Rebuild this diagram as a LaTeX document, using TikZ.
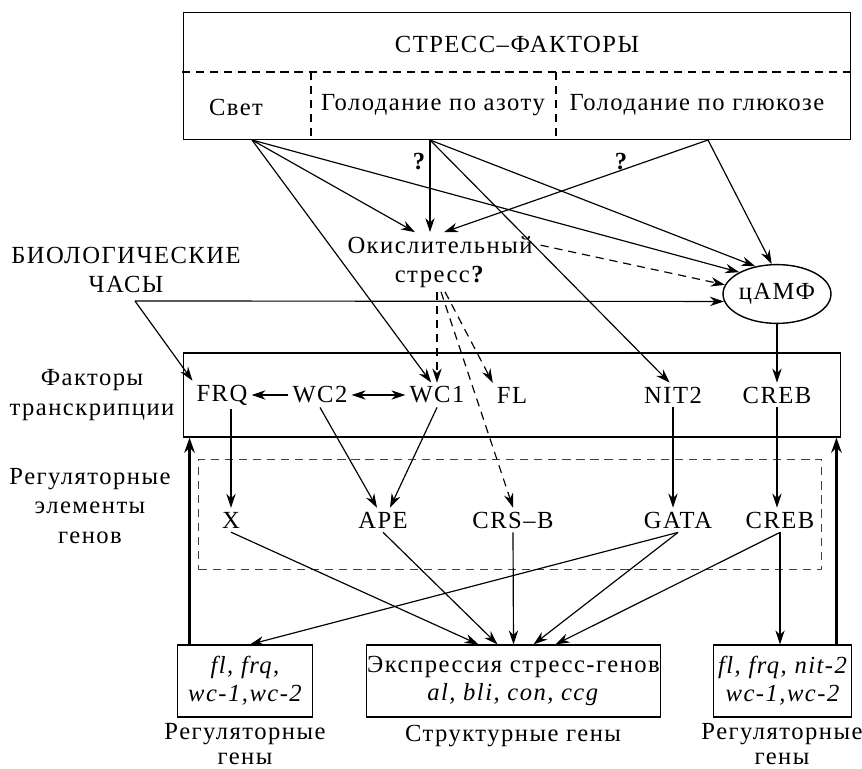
\documentclass[tikz,border=0pt]{standalone}
\usepackage{fontspec}
\setmainfont{Liberation Serif}[LetterSpace=6]
\usetikzlibrary{arrows.meta,positioning,shapes.geometric,calc}
\tikzset{
  box/.style={draw,line width=1.2pt,inner sep=0pt},
  link/.style={line width=1pt,-{Stealth[length=12pt,width=8pt]}},
  dlink/.style={link,dash pattern=on 7pt off 5pt},
  back/.style={line width=2.2pt,-{Stealth[length=13pt,width=9pt]}},
  dsh/.style={line width=1pt,dash pattern=on 7pt off 5pt},
  qmark/.style={font=\fontsize{21}{25}\selectfont\bfseries},
  undertext/.style={font=\fontsize{21}{21}\selectfont,inner sep=0pt}
}

\begin{document}
\begin{tikzpicture}[x=0.03cm,y=-0.03cm,
  every node/.style={font=\fontsize{21}{25}\selectfont,align=center}]
  \useasboundingbox (0,0) rectangle (862,769);
  % stress factors
  \node[box,minimum width=670*0.8504pt,minimum height=128*0.8504pt] (stressbox) at (517,76) {};
  \draw[dsh] (182,72) -- (852,72);
  \draw[dsh] (311,72) -- (311,140);
  \draw[dsh] (556,72) -- (556,140);
  \node (stress) at (517,44) {СТРЕСС–ФАКТОРЫ};
  \node (svet) at (236,107) {Свет};
  \node (azot) at (433,105) {Голодание по азоту};
  \node (gluc) at (697,105) {Голодание по глюкозе};
  \coordinate (svetb) at (252,140);
  \coordinate (azotb) at (430,140);
  \coordinate (glucb) at (708,140);
  \node[qmark] (q1) at (419,162) {?};
  \node[qmark] (q2) at (621,162) {?};

  % oxidative stress, cAMP, clock
  \node (ox) at (440,262) {Окислительный\\стресс\textbf{?}};
  \node[draw,ellipse,line width=1.2pt,inner sep=0pt,
        minimum width=98*0.8504pt,minimum height=59*0.8504pt] (camp) at (777,294) {цАМФ};
  \node (clock) at (126,270) {БИОЛОГИЧЕСКИЕ\\ЧАСЫ};
  \coordinate (clk) at (135,301);

  % transcription factors
  \node[box,minimum width=660*0.8504pt,minimum height=84*0.8504pt] (tfbox) at (512,395) {};
  \node (tflbl) at (92,395) {Факторы\\транскрипции};
  \node (frq) at (222,395) {FRQ};
  \node (wc2) at (320,395) {WC2};
  \node (wc1) at (437,395) {WC1};
  \node (fl) at (512,395) {FL};
  \node (nit) at (673,395) {NIT2};
  \node (crebf) at (777,395) {CREB};

  % regulatory elements
  \node[box,dsh,draw=black!75,minimum width=625*0.8504pt,minimum height=111*0.8504pt] (regbox) at (510,514.5) {};
  \node (relbl) at (90,506) {Регуляторные\\элементы\\генов};
  \node (x) at (231,520) {X};
  \node (ape) at (383,520) {APE};
  \node (crsb) at (513,520) {CRS–B};
  \node (gata) at (678,520) {GATA};
  \node (crebe) at (780,520) {CREB};

  % genes
  \node[box,minimum width=136*0.8504pt,minimum height=72*0.8504pt,
        font=\fontsize{21}{24}\selectfont\itshape] (regl) at (245,681) {fl, frq,\\wc-1,wc-2};
  \node[box,minimum width=295*0.8504pt,minimum height=72*0.8504pt,
        font=\fontsize{21}{24}\selectfont] (struct) at (513.5,681) {Экспрессия стресс-генов\\\textit{al, bli, con, ccg}};
  \node[box,minimum width=139*0.8504pt,minimum height=72*0.8504pt,
        font=\fontsize{21}{24}\selectfont\itshape] (regr) at (782.5,681) {fl, frq, nit-2\\wc-1,wc-2};
  \node[undertext] (regllbl) at (245,744) {Регуляторные\\гены};
  \node[undertext] (structlbl) at (513,736) {Структурные гены};
  \node[undertext] (regrlbl) at (782,744) {Регуляторные\\гены};

  % from stress factors
  \draw[link] (svetb) -- ($(ox.north)+(-25,0)$);
  \draw[link] (svetb) -- (wc1.115);
  \draw[link] (svetb) -- (camp.150);
  \draw[link] (azotb) -- ($(ox.north)+(-10,0)$);
  \draw[link] (azotb) -- (nit.105);
  \draw[link] (azotb) -- (camp.128);
  \draw[link] (glucb) -- ($(ox.north)+(4,0)$);
  \draw[link] (glucb) -- (camp.100);
  \draw[dlink] ($(ox.north east)+(4,13)$) -- (camp.170);
  \draw[link] (clk) -- (camp.188);
  \draw[link] (clk) -- (frq.north west);
  % from oxidative stress
  \draw[dlink] ($(ox.south)+(-3,0)$) -- (wc1.north);
  \draw[dlink] ($(ox.south)+(1,0)$) -- (crsb.north);
  \draw[dlink] ($(ox.south)+(5,0)$) -- (fl.north west);
  % factors
  \draw[link] (wc2) -- (frq);
  \draw[line width=1pt,{Stealth[length=12pt,width=8pt]}-{Stealth[length=12pt,width=8pt]}] (wc2) -- (wc1);
  \draw[link] (camp) -- (crebf);
  \draw[link] (frq.south -| x) -- (x);
  \draw[link] (wc2.south) -- ($(ape.north)+(-6,0)$);
  \draw[link] (wc1.south) -- ($(ape.north)+(7,0)$);
  \draw[link] (nit.south) -- (nit.south |- gata.north);
  \draw[link] (crebf.south) -- (crebf.south |- crebe.north);
  % elements to genes
  \draw[link] (x.south) -- ($(struct.north)+(-35,0)$);
  \draw[link] (ape.south) -- ($(struct.north)+(-16,0)$);
  \draw[link] (crsb.south) -- (struct.north);
  \draw[link] (gata.south) -- ($(struct.north)+(20,0)$);
  \draw[link] (crebe.south) -- ($(struct.north)+(42,0)$);
  \draw[link] (gata.south) -- ($(regl.north)+(5,0)$);
  \draw[link] (crebe.south) -- (crebe.south |- regr.north);
  % feedback
  \coordinate (fbl) at ($(regl.north west)+(13,0)$);
  \coordinate (fbr) at ($(regr.north east)+(-16,0)$);
  \draw[back] (fbl) -- (fbl |- tfbox.south);
  \draw[back] (fbr) -- (fbr |- tfbox.south);
\end{tikzpicture}
\end{document}
